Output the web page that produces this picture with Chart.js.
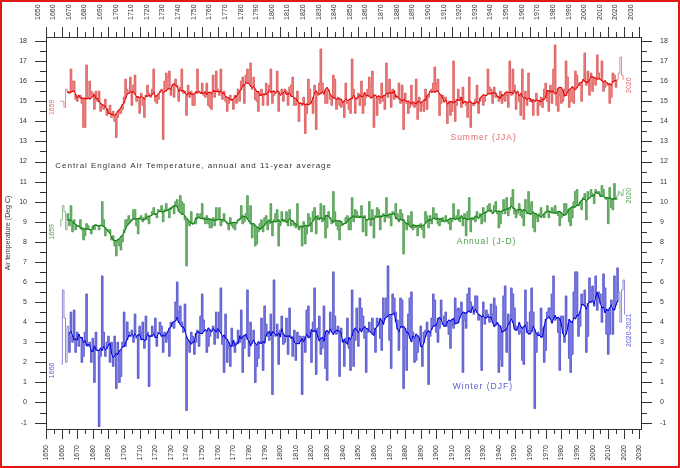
<!DOCTYPE html>
<html>
<head>
<meta charset="utf-8">
<title>Central England Air Temperature</title>
<script src="https://cdn.jsdelivr.net/npm/chart.js@4.4.1/dist/chart.umd.min.js"></script>
<style>
    html, body { margin: 0; padding: 0; background: #fff; }
    #wrap { position: relative; width: 680px; height: 468px; }
    #frame {
        position: absolute; left: 0; top: 0; width: 680px; height: 468px;
        box-sizing: border-box; border: 2px solid #e01818; pointer-events: none;
    }
</style>
</head>
<body>
<div id="wrap">
    <canvas id="cetChart" width="680" height="468"></canvas>
    <div id="frame"></div>
</div>
<script>
// 數據 (讀自圖表)
const summerStart = 1659;
const annualStart = 1659;
const winterStart = 1660;

// Summer (JJA), 1659-2020
const summerValues = [
    15.0, 15.0, 15.0, 14.7, 15.6, 15.5, 15.4, 16.6, 16.0, 16.0,
    15.1, 15.0, 15.2, 15.3, 14.9, 13.7, 13.7, 16.8, 15.2, 16.0,
    15.5, 15.4, 14.6, 15.5, 15.0, 15.5, 14.5, 14.7, 14.6, 15.1,
    14.3, 14.6, 14.8, 14.2, 14.5, 14.0, 13.2, 14.2, 14.4, 14.4,
    14.6, 15.2, 16.1, 15.6, 15.4, 16.2, 14.8, 15.8, 16.3, 15.0,
    15.2, 14.4, 15.4, 14.8, 14.2, 15.3, 15.8, 15.4, 15.2, 15.6,
    16.6, 15.0, 14.9, 15.1, 15.5, 15.6, 13.1, 16.0, 16.4, 16.2,
    16.5, 15.3, 15.8, 15.2, 16.1, 15.8, 15.0, 15.7, 16.6, 15.4,
    15.5, 14.3, 15.8, 15.2, 15.5, 14.8, 14.8, 15.4, 16.6, 15.5,
    15.4, 15.9, 15.3, 15.2, 15.9, 14.8, 14.7, 14.6, 16.3, 15.2,
    16.5, 15.6, 15.3, 16.6, 15.1, 15.5, 15.0, 14.5, 14.9, 15.3,
    15.1, 14.6, 15.3, 14.9, 15.6, 15.0, 16.0, 16.2, 14.9, 16.3,
    16.6, 16.0, 16.9, 15.6, 16.2, 15.1, 15.0, 14.5, 15.3, 15.6,
    14.8, 15.4, 15.9, 14.8, 15.8, 16.6, 14.9, 15.3, 15.4, 16.5,
    14.5, 15.3, 15.6, 15.0, 15.6, 15.5, 14.8, 15.7, 15.8, 16.2,
    14.8, 14.8, 15.5, 14.0, 14.9, 14.8, 15.2, 13.4, 14.4, 16.1,
    15.6, 14.9, 14.4, 15.8, 13.6, 15.3, 15.9, 17.6, 15.9, 15.5,
    14.9, 14.9, 15.5, 15.1, 14.8, 16.3, 16.1, 14.6, 15.2, 14.8,
    14.7, 14.8, 14.2, 15.9, 14.9, 14.6, 14.4, 17.1, 15.6, 14.4,
    15.1, 15.4, 14.8, 16.0, 14.4, 14.8, 15.2, 15.6, 16.2, 15.7,
    16.5, 13.7, 15.3, 14.3, 15.1, 14.9, 15.9, 15.0, 14.6, 16.9,
    15.2, 16.1, 14.7, 15.6, 15.1, 15.3, 15.2, 15.9, 14.9, 15.8,
    13.6, 15.4, 14.9, 14.4, 14.7, 15.8, 14.8, 14.7, 16.1, 14.1,
    15.2, 14.5, 14.8, 14.5, 15.6, 14.6, 15.2, 15.5, 15.6, 15.9,
    16.7, 15.9, 16.1, 14.3, 14.9, 15.3, 15.2, 15.2, 13.9, 15.0,
    14.3, 14.5, 17.0, 14.0, 14.8, 15.6, 15.2, 14.7, 15.7, 15.0,
    14.8, 14.2, 16.2, 13.7, 14.8, 14.8, 15.1, 15.8, 14.4, 15.0,
    15.2, 14.8, 15.0, 15.3, 16.6, 15.7, 15.6, 14.9, 15.7, 15.2,
    15.2, 15.0, 15.5, 14.9, 15.1, 15.0, 15.3, 14.7, 17.0, 15.3,
    16.6, 15.8, 14.6, 15.5, 15.0, 14.3, 16.6, 14.1, 15.5, 14.8,
    16.4, 15.0, 15.1, 14.3, 15.0, 15.4, 14.3, 14.8, 15.2, 14.7,
    15.6, 15.9, 15.0, 14.5, 15.8, 14.9, 16.6, 17.8, 14.8, 14.5,
    15.3, 14.9, 15.0, 15.6, 17.0, 16.2, 14.7, 15.0, 15.0, 14.9,
    16.5, 16.3, 15.9, 15.8, 15.0, 16.0, 17.4, 15.8, 16.5, 15.3,
    16.4, 15.5, 15.9, 15.8, 17.3, 16.4, 16.1, 17.0, 15.5, 15.7,
    15.9, 15.8, 14.9, 15.2, 16.4, 16.3, 15.7, 16.1, 16.4, 17.2,
    16.3, 16.1
];

// Annual (J-D), 1659-2020
const annualValues = [
    8.8, 9.1, 9.8, 9.5, 8.6, 9.4, 8.8, 9.8, 8.5, 9.1,
    8.6, 8.8, 8.8, 9.1, 8.6, 8.1, 8.3, 8.9, 8.8, 8.6,
    8.4, 8.8, 8.6, 8.8, 8.8, 8.6, 8.8, 10.0, 9.1, 8.3,
    8.6, 8.6, 8.6, 8.1, 8.3, 7.8, 7.3, 8.0, 7.8, 7.6,
    8.0, 8.6, 9.1, 9.1, 9.3, 9.1, 9.1, 9.6, 9.6, 8.8,
    8.4, 9.2, 9.3, 9.0, 9.2, 9.4, 9.1, 8.9, 9.3, 9.5,
    9.7, 9.4, 9.2, 9.6, 9.5, 9.8, 9.0, 9.6, 9.9, 9.6,
    9.2, 9.7, 9.7, 9.4, 10.0, 10.1, 9.8, 10.3, 10.0, 9.9,
    9.1, 6.8, 8.9, 8.8, 9.5, 8.9, 8.9, 8.9, 9.4, 9.2,
    9.4, 9.9, 9.2, 8.9, 9.3, 8.9, 8.7, 8.7, 9.2, 8.8,
    9.7, 9.1, 9.7, 8.8, 9.0, 9.4, 9.0, 8.9, 8.6, 9.2,
    8.8, 8.7, 8.6, 8.9, 9.1, 9.1, 9.8, 8.9, 9.0, 9.4,
    10.3, 9.3, 9.8, 8.2, 8.8, 7.8, 7.9, 8.5, 8.9, 9.1,
    8.5, 9.2, 9.3, 8.6, 8.9, 9.9, 8.3, 9.1, 9.4, 9.6,
    7.8, 8.8, 9.5, 9.0, 9.1, 9.5, 8.8, 9.6, 8.8, 9.0,
    8.8, 8.7, 9.9, 8.6, 8.8, 7.8, 9.0, 7.9, 8.4, 9.4,
    9.2, 8.5, 9.5, 9.7, 8.4, 9.3, 9.2, 9.9, 9.0, 9.8,
    8.2, 8.7, 9.5, 9.2, 8.9, 10.5, 9.5, 8.8, 8.6, 8.1,
    8.8, 8.9, 8.9, 9.2, 9.3, 8.6, 8.6, 10.2, 9.0, 9.6,
    9.5, 9.3, 9.2, 9.8, 8.5, 9.3, 8.3, 9.1, 10.0, 8.8,
    9.6, 8.2, 9.3, 9.7, 9.6, 8.6, 9.3, 9.4, 9.0, 10.2,
    9.2, 9.2, 8.8, 9.5, 9.4, 9.9, 9.4, 9.0, 9.6, 9.4,
    7.4, 8.9, 8.6, 9.3, 9.0, 9.5, 8.6, 8.7, 8.8, 8.3,
    8.7, 8.9, 8.6, 8.2, 9.5, 9.3, 8.7, 9.3, 8.9, 9.7,
    9.4, 9.4, 8.9, 8.8, 9.0, 9.2, 9.0, 9.3, 9.0, 8.9,
    8.6, 9.0, 9.9, 9.1, 9.3, 9.6, 9.0, 9.2, 8.8, 9.4,
    8.3, 9.5, 10.2, 8.5, 9.1, 9.1, 9.0, 9.5, 9.2, 9.4,
    8.9, 9.7, 9.0, 9.5, 9.8, 9.9, 9.6, 9.4, 9.8, 10.0,
    9.4, 8.7, 8.9, 9.4, 10.1, 9.4, 10.2, 9.3, 9.6, 10.2,
    10.6, 9.4, 9.2, 9.4, 9.9, 9.3, 9.2, 8.8, 10.1, 9.4,
    10.5, 9.8, 10.0, 8.7, 8.5, 9.2, 9.0, 9.4, 9.7, 9.3,
    9.2, 9.5, 9.8, 9.2, 9.5, 9.7, 9.6, 9.8, 9.5, 9.3,
    8.8, 9.2, 9.3, 9.9, 9.9, 9.6, 9.0, 8.8, 9.2, 10.0,
    10.5, 10.6, 9.8, 9.9, 9.6, 10.2, 10.4, 9.1, 10.5, 10.2,
    10.6, 10.4, 9.9, 10.6, 10.5, 10.5, 10.4, 10.8, 10.6, 10.2,
    10.1, 8.9, 10.7, 9.7, 9.6, 10.9, 10.1, 10.3, 10.5, 10.4,
    10.3, 10.6
];

// Winter (DJF), 1660-2021
const winterValues = [
    1.9, 5.6, 4.2, 2.0, 3.8, 2.5, 4.5, 3.0, 4.6, 2.5,
    3.5, 2.8, 3.2, 2.0, 2.3, 3.5, 5.4, 2.8, 3.0, 2.0,
    3.2, 1.0, 3.5, 2.6, -1.2, 2.3, 6.3, 3.5, 2.3, 3.0,
    3.3, 2.0, 3.0, 1.8, 3.3, 0.7, 3.0, 1.0, 1.3, 3.0,
    4.5, 2.8, 4.0, 3.5, 3.3, 3.6, 3.0, 4.4, 3.2, 1.2,
    3.8, 3.5, 4.0, 2.7, 4.3, 3.5, 0.8, 3.3, 3.8, 3.5,
    4.2, 2.8, 3.5, 4.0, 3.8, 2.5, 3.5, 3.0, 3.2, 2.3,
    4.0, 3.8, 3.7, 5.0, 6.0, 4.5, 4.8, 4.0, 3.5, 4.9,
    -0.4, 3.0, 2.5, 3.5, 3.3, 2.4, 3.0, 3.6, 2.8, 4.3,
    5.4, 4.1, 3.6, 2.5, 2.8, 3.3, 3.6, 3.8, 2.9, 4.5,
    3.2, 4.5, 5.7, 2.9, 1.5, 4.4, 2.0, 2.7, 1.8, 3.7,
    2.8, 2.5, 3.0, 3.6, 3.0, 4.6, 1.5, 2.7, 3.3, 5.6,
    2.3, 4.0, 3.1, 3.6, 1.0, 1.8, 2.2, 3.0, 4.2, 1.6,
    4.8, 3.9, 3.3, 3.1, 4.4, 0.4, 6.1, 3.3, 3.9, 1.9,
    3.6, 4.3, 2.9, 3.0, 4.2, 2.4, 4.7, 3.3, 2.3, 3.6,
    2.1, 3.5, 3.3, 3.3, 0.4, 3.3, 2.5, 4.6, 4.8, 3.5,
    2.0, 4.0, 5.7, 1.4, 3.7, 4.3, 2.4, 2.7, 4.8, 1.7,
    1.1, 3.4, 4.5, 3.7, 6.5, 4.3, 3.4, 3.8, 1.3, 3.7,
    3.1, 1.8, 3.2, 4.2, 2.7, 1.6, 5.6, 1.8, 3.1, 4.7,
    2.8, 5.2, 4.7, 4.3, 3.2, 1.5, 3.5, 4.0, 3.5, 4.2,
    3.7, 2.5, 4.2, 4.0, 3.2, 2.6, 5.2, 4.4, 5.2, 6.8,
    3.1, 1.7, 5.4, 5.2, 4.5, 4.1, 2.6, 5.2, 5.1, 0.7,
    2.7, 1.6, 4.4, 5.2, 5.5, 3.5, 2.0, 2.1, 2.5, 3.1,
    3.8, 1.8, 3.5, 3.6, 4.0, 0.9, 3.3, 4.2, 5.4, 5.1,
    3.5, 3.0, 3.7, 5.1, 3.9, 4.3, 4.5, 3.8, 3.4, 2.7,
    3.9, 3.7, 5.2, 4.6, 4.7, 4.6, 5.0, 1.5, 4.1, 3.7,
    5.4, 5.7, 5.0, 4.8, 4.4, 5.3, 5.3, 4.1, 4.3, 1.6,
    5.0, 3.9, 4.6, 4.4, 4.0, 4.9, 4.4, 5.2, 4.8, 3.9,
    1.5, 2.2, 1.8, 5.3, 5.8, 2.5, 4.4, 1.1, 5.7, 5.4,
    4.7, 3.8, 3.6, 3.4, 3.5, 2.1, 1.9, 5.6, 4.0, 3.6,
    4.5, 5.7, 4.5, -0.3, 2.5, 3.5, 3.4, 4.7, 3.7, 2.0,
    2.6, 4.5, 4.7, 4.7, 5.4, 6.3, 4.1, 4.2, 3.5, 1.6,
    4.3, 4.3, 3.0, 5.3, 3.9, 2.2, 1.5, 2.4, 5.5, 6.5,
    6.5, 3.3, 3.8, 5.4, 4.9, 5.6, 2.5, 3.3, 6.2, 5.6,
    5.8, 4.8, 6.3, 4.6, 5.5, 5.4, 4.0, 6.4, 5.7, 3.4,
    2.4, 3.4, 5.1, 3.4, 6.3, 5.0, 6.7, 5.5, 4.0, 5.6,
    6.1, 4.4
];

// 軸範圍
const yearRange = [1650, 2031];
const tempRange = [-1.32, 18.2];

if (summerValues.length !== 362 || annualValues.length !== 362 || winterValues.length !== 362) {
    throw new Error('length ' + summerValues.length + ' ' + annualValues.length + ' ' + winterValues.length);
}

// 設置顏色
const colors = {
    summer: { bar: '#ec7e7e', step: '#d86060', mean: '#e40000', text: '#e06a6a' },
    annual: { bar: '#6cb46c', step: '#5a9e5a', mean: '#10800f', text: '#4c9c4c' },
    winter: { bar: '#7878e4', step: '#5a5ac4', mean: '#0000e0', text: '#5a5ad0' },
    axis: '#333333'
};
const tickFont = { family: "'Liberation Sans', Arial, sans-serif", size: 7 };

// 11年滑動平均
function runningMean(vals, half) {
    return vals.map((v, i) => {
        if (i < half || i >= vals.length - half) return null;
        let s = 0;
        for (let k = i - half; k <= i + half; k++) s += vals[k];
        return s / (2 * half + 1);
    });
}

function seriesDatasets(start, vals, col) {
    const avg = runningMean(vals, 5);
    const bars = [], steps = [], mean = [];
    vals.forEach((v, i) => {
        const yr = start + i;
        steps.push({ x: yr, y: v });
        if (avg[i] !== null) {
            bars.push({ x: yr, y: [avg[i], v] });
            mean.push({ x: yr, y: avg[i] });
        }
    });
    return [
        { type: 'bar', data: bars, backgroundColor: col.bar, borderWidth: 0,
          barThickness: 1.7, grouped: false, order: 3 },
        { type: 'line', data: steps, stepped: 'middle', borderColor: col.step,
          borderWidth: 0.7, pointRadius: 0, fill: false, order: 2 },
        { type: 'line', data: mean, borderColor: col.mean, borderWidth: 1,
          pointRadius: 0.6, pointBorderWidth: 0, pointBackgroundColor: col.mean,
          fill: false, order: 1 }
    ];
}

// 刻度線 (主/次)
const tickMarks = {
    id: 'tickMarks',
    afterDraw(chart) {
        const ctx = chart.ctx, a = chart.chartArea;
        const xs = chart.scales.x, ys = chart.scales.y;
        ctx.save();
        ctx.strokeStyle = colors.axis;
        ctx.lineWidth = 1;
        ctx.beginPath();
        for (let v = 1650; v <= 2030; v += 5) {
            const px = Math.round(xs.getPixelForValue(v)) + 0.5;
            const len = v % 10 === 0 ? 10 : 5;
            ctx.moveTo(px, a.bottom); ctx.lineTo(px, a.bottom + len);
            ctx.moveTo(px, a.top); ctx.lineTo(px, a.top - len);
        }
        for (let v = -1; v <= 18; v += 0.5) {
            const py = Math.round(ys.getPixelForValue(v)) + 0.5;
            const len = Number.isInteger(v) ? 11 : 6;
            ctx.moveTo(a.left, py); ctx.lineTo(a.left - len, py);
            ctx.moveTo(a.right, py); ctx.lineTo(a.right + len, py);
        }
        ctx.stroke();
        ctx.restore();
    }
};

// 文字標註
const notes = [
    { text: 'Central England Air Temperature, annual and 11-year average', x: 1656, y: 11.8, color: '#333', size: 8, spacing: 0.95 },
    { text: 'Summer (JJA)', x: 1909, y: 13.2, color: colors.summer.text, size: 8.5, spacing: 1 },
    { text: 'Annual (J-D)', x: 1913, y: 8.0, color: colors.annual.text, size: 8.5, spacing: 1 },
    { text: 'Winter (DJF)', x: 1910.5, y: 0.8, color: colors.winter.text, size: 8.5, spacing: 1 }
];
const sideNotes = [
    { text: '1659', x: 1654, y: 14.7, color: colors.summer.text },
    { text: '1659', x: 1654, y: 8.5, color: colors.annual.text },
    { text: '1660', x: 1654, y: 1.6, color: colors.winter.text },
    { text: '2020', x: 2023.2, y: 15.8, color: colors.summer.text },
    { text: '2020', x: 2023.2, y: 10.3, color: colors.annual.text },
    { text: '2020-2021', x: 2023.2, y: 3.6, color: colors.winter.text }
];

const annotations = {
    id: 'annotations',
    afterDatasetsDraw(chart) {
        const ctx = chart.ctx;
        const xs = chart.scales.x, ys = chart.scales.y;
        ctx.save();
        ctx.textBaseline = 'middle';
        notes.forEach(n => {
            ctx.font = n.size + "px 'Liberation Sans', Arial, sans-serif";
            ctx.fillStyle = n.color;
            ctx.textAlign = 'left';
            if ('letterSpacing' in ctx) ctx.letterSpacing = n.spacing + 'px';
            ctx.fillText(n.text, xs.getPixelForValue(n.x), ys.getPixelForValue(n.y));
        });
        if ('letterSpacing' in ctx) ctx.letterSpacing = '0px';
        sideNotes.forEach(n => {
            ctx.save();
            ctx.translate(xs.getPixelForValue(n.x), ys.getPixelForValue(n.y));
            ctx.rotate(-Math.PI / 2);
            ctx.font = "7px 'Liberation Sans', Arial, sans-serif";
            ctx.fillStyle = n.color;
            ctx.textAlign = 'center';
            ctx.fillText(n.text, 0, 0);
            ctx.restore();
        });
        ctx.restore();
    }
};

function yearAxis(position, height, pad) {
    return {
        type: 'linear', axis: 'x', position: position,
        min: yearRange[0], max: yearRange[1], offset: false,
        ticks: { stepSize: 10, includeBounds: false, minRotation: 90, maxRotation: 90,
                 autoSkip: false, padding: pad, font: tickFont, color: colors.axis,
                 callback: v => String(v) },
        grid: { drawOnChartArea: false, tickLength: 10, tickColor: 'rgba(0,0,0,0)' },
        border: { color: colors.axis, width: 1 },
        afterFit: s => { s.height = height; }
    };
}

function tempAxis(position, width, withTitle) {
    const ax = {
        type: 'linear', axis: 'y', position: position,
        min: tempRange[0], max: tempRange[1],
        ticks: { stepSize: 1, includeBounds: false, padding: 8, font: tickFont,
                 color: colors.axis, callback: v => String(v) },
        grid: { drawOnChartArea: false, tickLength: 11, tickColor: 'rgba(0,0,0,0)' },
        border: { color: colors.axis, width: 1 },
        afterFit: s => { s.width = width; }
    };
    if (withTitle) {
        ax.title = { display: true, text: 'Air temperature (Deg C)', color: colors.axis,
                     font: { family: tickFont.family, size: 7 }, padding: { top: 4, bottom: 0 } };
    }
    return ax;
}

new Chart(document.getElementById('cetChart'), {
    type: 'bar',
    data: {
        datasets: [
            ...seriesDatasets(summerStart, summerValues, colors.summer),
            ...seriesDatasets(annualStart, annualValues, colors.annual),
            ...seriesDatasets(winterStart, winterValues, colors.winter)
        ]
    },
    options: {
        responsive: false,
        animation: false,
        layout: { padding: 0 },
        plugins: { legend: { display: false }, tooltip: { enabled: false } },
        scales: {
            x: yearAxis('bottom', 39, 6),
            xTop: yearAxis('top', 37, 7),
            y: tempAxis('left', 46, true),
            yRight: tempAxis('right', 39, false)
        }
    },
    plugins: [tickMarks, annotations]
});
</script>
</body>
</html>
